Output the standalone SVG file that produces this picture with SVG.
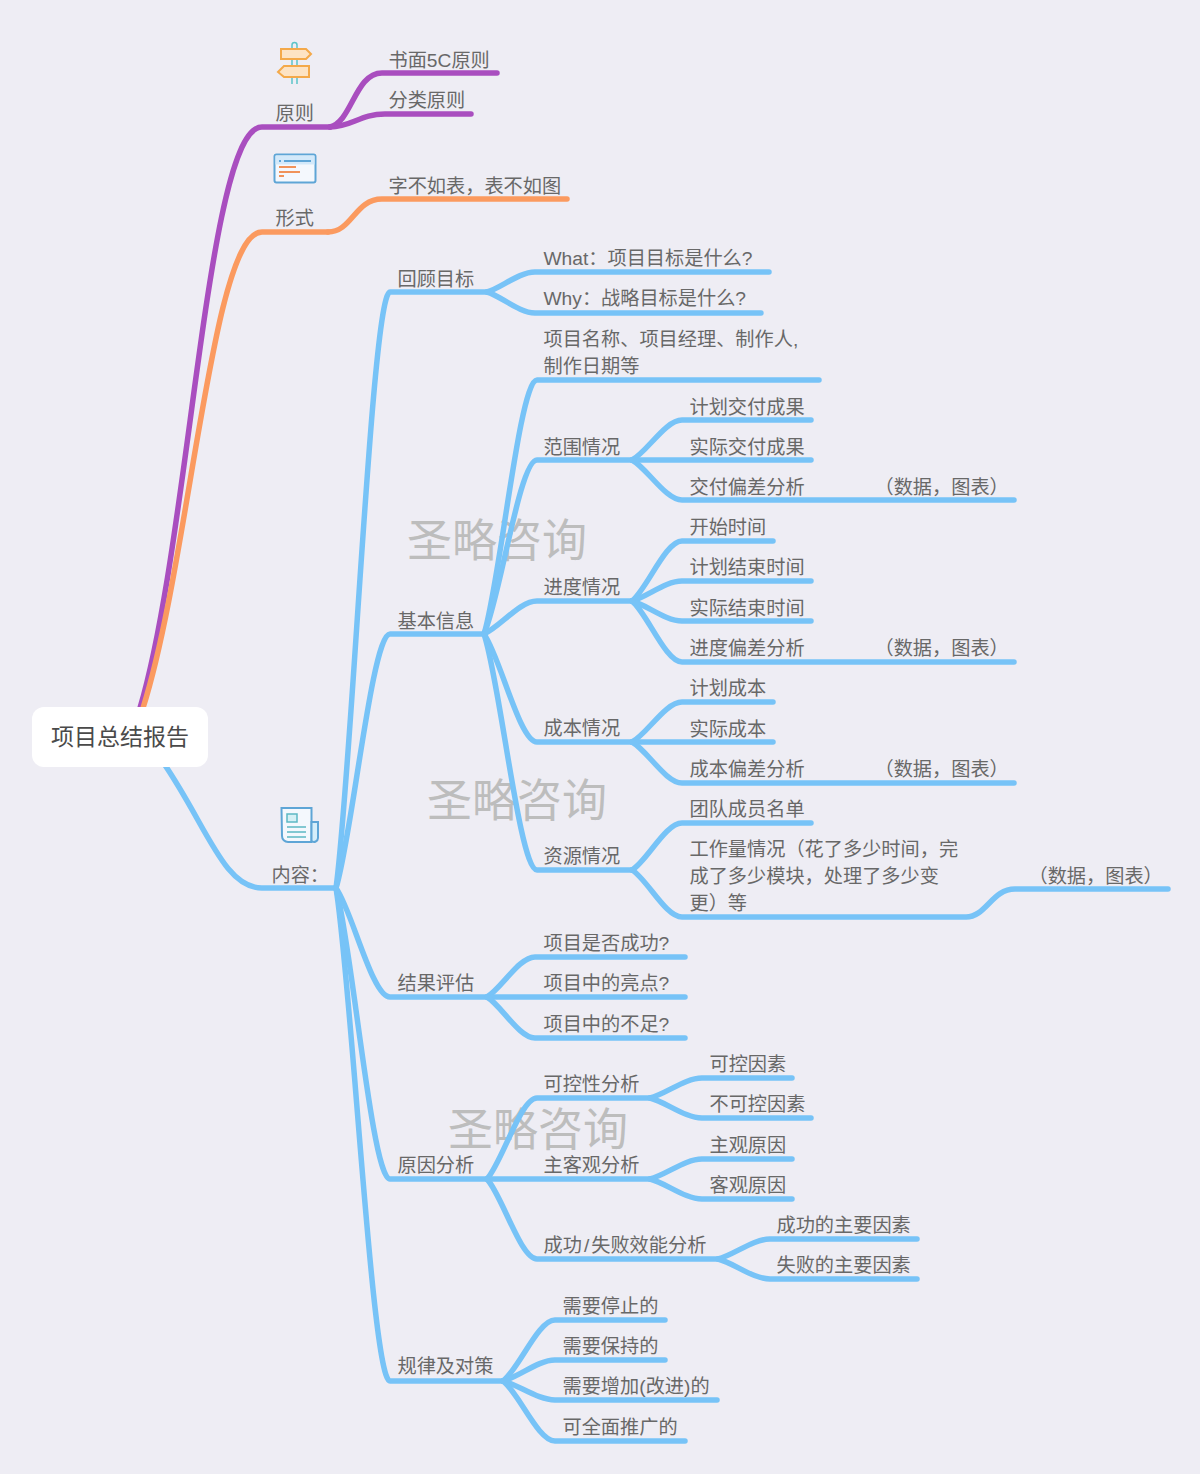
<svg xmlns="http://www.w3.org/2000/svg" width="1200" height="1474" viewBox="0 0 1200 1474">
<style>
text{font-family:"Liberation Sans","Noto Sans CJK SC",sans-serif;font-size:19.2px;fill:#686868}
.c path{fill:none;stroke-linecap:round;stroke-linejoin:round;stroke-width:5.500px}
.b path{stroke:#77c3f7}
.wm{font-size:45px;fill:#bdbdbd}
</style>
<rect width="1200" height="1474" fill="#eeedf4"/>
<g id="watermarks">
<text class="wm" x="407" y="557">圣略咨询</text>
<text class="wm" x="427" y="817">圣略咨询</text>
<text class="wm" x="448" y="1146">圣略咨询</text>
</g>
<g id="connectors" class="c">
<g stroke="#a94ebf">
<path d="M140,708C190,540 207,127 262,127H330"/>
<path d="M330,127C352,122 355,73 382,73H497"/>
<path d="M330,127C352,127 360,114 385,114H471"/>
</g>
<g stroke="#fb9a5f">
<path d="M143,708C190,560 212,232 262,232H328"/>
<path d="M328,232C352,232 355,199 382,199H567"/>
</g>
<g class="b">
<path d="M158,755C205,820 222,888 262,888H336"/>
<path d="M336,888C352,769 372,292 390,292H487"/>
<path d="M336,888C352,837 372,634 390,634H484"/>
<path d="M336,888C352,910 372,997 390,997H487"/>
<path d="M336,888C352,946 372,1179 390,1179H487"/>
<path d="M336,888C352,987 372,1381 390,1381H503"/>
<path d="M487,292C501,288 519,272 535,272H769"/>
<path d="M487,292C501,296 519,313 535,313H761"/>
<path d="M484,634C500,583 519.500,380 537,380H819"/>
<path d="M484,634C500,599 519.500,460 537,460H632"/>
<path d="M484,634C500,627 519.500,601 537,601H632"/>
<path d="M484,634C500,656 519.500,742 537,742H632"/>
<path d="M484,634C500,681 519.500,870 537,870H632"/>
<path d="M632,460C647,452 665.500,420 682,420H811"/>
<path d="M632,460H811"/>
<path d="M632,460C647,468 665.500,500 682,500H1014"/>
<path d="M632,601C647,589 665.500,541 682,541H773"/>
<path d="M632,601C647,597 665.500,581 682,581H811"/>
<path d="M632,601C647,605 665.500,621 682,621H811"/>
<path d="M632,601C647,613 665.500,662 682,662H1014"/>
<path d="M632,742C647,734 665.500,702 682,702H773"/>
<path d="M632,742H773"/>
<path d="M632,742C647,750 665.500,783 682,783H1014"/>
<path d="M632,870C647,861 665.500,823 682,823H811"/>
<path d="M632,870C647,879 665.500,917 682,917H966C986,917 992,889 1015,889H1168"/>
<path d="M487,997C501,989 519,957 535,957H685"/>
<path d="M487,997H685"/>
<path d="M487,997C501,1005 519,1038 535,1038H685"/>
<path d="M487,1179C502,1163 520.500,1098 537,1098H650"/>
<path d="M487,1179H650"/>
<path d="M487,1179C502,1195 520.500,1259 537,1259H718"/>
<path d="M650,1098C666,1094 685,1078 702,1078H792"/>
<path d="M650,1098C666,1102 685,1118 702,1118H811"/>
<path d="M650,1179C666,1175 685,1159 702,1159H792"/>
<path d="M650,1179C666,1183 685,1199 702,1199H792"/>
<path d="M718,1259C734,1255 753,1239 770,1239H917"/>
<path d="M718,1259C734,1263 753,1279 770,1279H917"/>
<path d="M503,1381C519,1369 538,1320 555,1320H665"/>
<path d="M503,1381C519,1377 538,1360 555,1360H665"/>
<path d="M503,1381C519,1385 538,1400 555,1400H717"/>
<path d="M503,1381C519,1393 538,1441 555,1441H685"/>
</g>
</g>
<g id="root"><rect x="32" y="707" width="176" height="60" rx="12" fill="#fff"/><text x="120" y="745" text-anchor="middle" style="font-size:23px;fill:#4a4a4a">项目总结报告</text></g>
<g id="icon-sign">
<path d="M292,84V45a2.500,2.500 0 0 1 5,0V84" fill="none" stroke="#5cc4c8" stroke-width="1.500"/>
<path d="M281,49H306L311,54L306,59H281ZM309,66H284L278,72L284,77H309Z" fill="#fde3c4" stroke="#f4a94a" stroke-width="2"/>
</g>
<g id="icon-form">
<rect x="274.500" y="154.500" width="41" height="28" rx="2" fill="#f4f8fd" stroke="#5ea5d6" stroke-width="2"/>
<rect x="275.500" y="155.500" width="39" height="9" fill="#d3e9fa"/>
<path d="M279,161H281M284,161H311" stroke="#5ea5d6" stroke-width="2"/>
<path d="M279,167H296M279,172H300M279,176H284" stroke="#f0935a" stroke-width="2"/>
</g>
<g id="icon-news">
<path d="M281.500,808H311.500V842H288a6,6 0 0 1 -6,-6Z" fill="#f4f8fd" stroke="#5ea5d6" stroke-width="2"/>
<path d="M311.500,822H318V838a4,4 0 0 1 -6.500,3Z" fill="#d5eefa" stroke="#5ea5d6" stroke-width="2"/>
<rect x="287" y="814" width="10" height="8" fill="#d5f0f5" stroke="#5cb8c4" stroke-width="1.500"/>
<path d="M287,827H306M287,832H306M287,837H306" stroke="#5cb8c4" stroke-width="1.500"/>
</g>
<g id="labels">
<text x="275.500" y="120">原则</text>
<text x="388.500" y="67">书面5C原则</text>
<text x="388.500" y="107">分类原则</text>
<text x="275.500" y="225">形式</text>
<text x="388.500" y="193">字不如表，表不如图</text>
<text x="271.500" y="882">内容：</text>
<text x="397.500" y="286">回顾目标</text>
<text x="543.500" y="265">What：项目目标是什么?</text>
<text x="543.500" y="305">Why：战略目标是什么?</text>
<text x="397.500" y="628">基本信息</text>
<text x="543.500" y="346">项目名称、项目经理、制作人,</text>
<text x="543.500" y="373">制作日期等</text>
<text x="543.500" y="454">范围情况</text>
<text x="689.500" y="414">计划交付成果</text>
<text x="689.500" y="454">实际交付成果</text>
<text x="689.500" y="494">交付偏差分析</text>
<text x="874.500" y="494">（数据，图表）</text>
<text x="543.500" y="594">进度情况</text>
<text x="689.500" y="534">开始时间</text>
<text x="689.500" y="574">计划结束时间</text>
<text x="689.500" y="615">实际结束时间</text>
<text x="689.500" y="655">进度偏差分析</text>
<text x="874.500" y="655">（数据，图表）</text>
<text x="543.500" y="735">成本情况</text>
<text x="689.500" y="695">计划成本</text>
<text x="689.500" y="736">实际成本</text>
<text x="689.500" y="776">成本偏差分析</text>
<text x="874.500" y="776">（数据，图表）</text>
<text x="543.500" y="863">资源情况</text>
<text x="689.500" y="816">团队成员名单</text>
<text x="689.500" y="856">工作量情况（花了多少时间，完</text>
<text x="689.500" y="883">成了多少模块，处理了多少变</text>
<text x="689.500" y="910">更）等</text>
<text x="1028.500" y="883">（数据，图表）</text>
<text x="397.500" y="990">结果评估</text>
<text x="543.500" y="950">项目是否成功?</text>
<text x="543.500" y="990">项目中的亮点?</text>
<text x="543.500" y="1031">项目中的不足?</text>
<text x="397.500" y="1172">原因分析</text>
<text x="543.500" y="1091">可控性分析</text>
<text x="709.500" y="1071">可控因素</text>
<text x="709.500" y="1111">不可控因素</text>
<text x="543.500" y="1172">主客观分析</text>
<text x="709.500" y="1152">主观原因</text>
<text x="709.500" y="1192">客观原因</text>
<text x="543.500" y="1252">成功<tspan dx="2">/</tspan><tspan dx="2">失败效能分析</tspan></text>
<text x="776.500" y="1232">成功的主要因素</text>
<text x="776.500" y="1272">失败的主要因素</text>
<text x="397.500" y="1373">规律及对策</text>
<text x="562.500" y="1313">需要停止的</text>
<text x="562.500" y="1353">需要保持的</text>
<text x="562.500" y="1393">需要增加(改进)的</text>
<text x="562.500" y="1434">可全面推广的</text>
</g>
</svg>
